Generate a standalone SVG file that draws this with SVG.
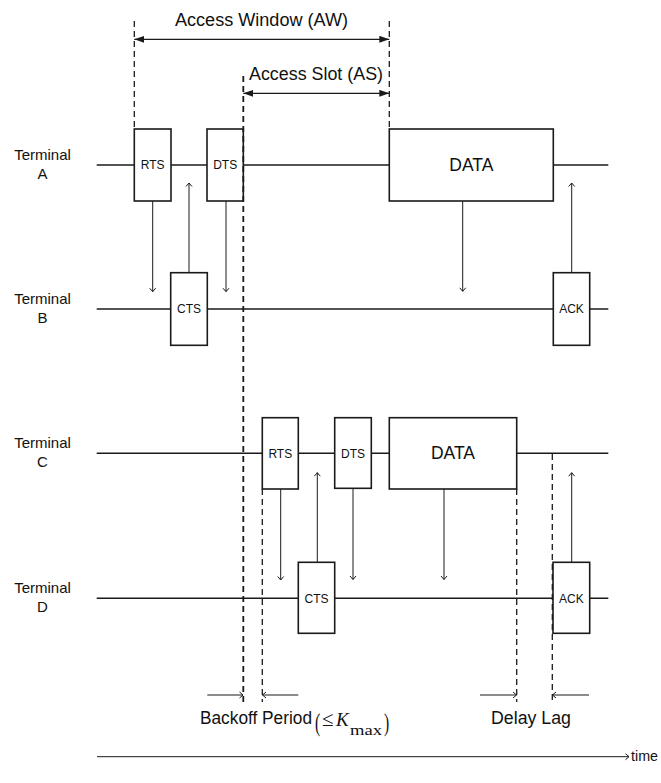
<svg xmlns="http://www.w3.org/2000/svg" width="661" height="783" viewBox="0 0 661 783">
<style>
.bg{fill:#fff}
.tl{stroke:#1a1a1a;stroke-width:1.5;fill:none}
.box{fill:#fff;stroke:#1a1a1a;stroke-width:1.6}
.msg{stroke:#1a1a1a;stroke-width:1;fill:none;marker-end:url(#v)}
.dash{stroke:#1a1a1a;stroke-width:1.3;stroke-dasharray:6 4;fill:none}
.dashb{stroke:#1a1a1a;stroke-width:1.8;stroke-dasharray:6 4;fill:none}
.dim{stroke:#1a1a1a;stroke-width:1.2;fill:none;marker-start:url(#tri);marker-end:url(#tri)}
.sm{stroke:#1a1a1a;stroke-width:1;fill:none;marker-end:url(#v)}
.lbl{font-family:"Liberation Sans",Arial,sans-serif;font-size:15px;fill:#111;text-anchor:middle}
.bt{font-family:"Liberation Sans",Arial,sans-serif;font-size:12px;fill:#111;text-anchor:middle}
.dt{font-family:"Liberation Sans",Arial,sans-serif;font-size:17.5px;fill:#111;text-anchor:middle}
.ttl{font-family:"Liberation Sans",Arial,sans-serif;font-size:17.5px;fill:#111}
.tm{font-family:"Liberation Sans",Arial,sans-serif;font-size:15px;fill:#111}
.ser{font-family:"Liberation Serif","Times New Roman",serif;fill:#111}
</style>
<defs>
<marker id="tri" markerUnits="userSpaceOnUse" markerWidth="11" markerHeight="8" refX="10" refY="3.5" orient="auto-start-reverse">
<path d="M0,0 L10,3.5 L0,7 z" fill="#1a1a1a"/>
</marker>
<marker id="v" markerUnits="userSpaceOnUse" markerWidth="8" markerHeight="10" refX="4" refY="4" orient="auto">
<path d="M0.5,1 L4,4 L0.5,7" fill="none" stroke="#1a1a1a" stroke-width="1"/>
</marker>
</defs>
<rect class="bg" x="0" y="0" width="661" height="783"/>

<g id="annotations">
<text class="ttl" x="175" y="26" textLength="173" lengthAdjust="spacingAndGlyphs">Access Window (AW)</text>
<text class="ttl" x="249" y="80" textLength="134" lengthAdjust="spacingAndGlyphs">Access Slot (AS)</text>
<line class="dim" x1="134.3" y1="39.3" x2="389.3" y2="39.3"/>
<line class="dim" x1="243.3" y1="93.3" x2="389.3" y2="93.3"/>
<line class="dash" x1="134.3" y1="21" x2="134.3" y2="129"/>
<line class="dash" x1="389.3" y1="21" x2="389.3" y2="129"/>
</g>

<g id="timelines">
<line class="tl" x1="96.7" y1="165" x2="608.3" y2="165"/>
<line class="tl" x1="96.7" y1="309" x2="608.3" y2="309"/>
<line class="tl" x1="96.7" y1="453.3" x2="608.3" y2="453.3"/>
<line class="tl" x1="96.7" y1="598.3" x2="608.3" y2="598.3"/>
</g>

<g id="terminal-labels">
<text class="lbl" x="42.5" y="160">Terminal</text><text class="lbl" x="42.5" y="179">A</text>
<text class="lbl" x="42.5" y="304">Terminal</text><text class="lbl" x="42.5" y="323">B</text>
<text class="lbl" x="42.5" y="448.3">Terminal</text><text class="lbl" x="42.5" y="467.3">C</text>
<text class="lbl" x="42.5" y="593.3">Terminal</text><text class="lbl" x="42.5" y="612.3">D</text>
</g>

<g id="A-RTS"><rect class="box" x="134.3" y="129" width="36.7" height="72"/><text class="bt" x="152.7" y="169.3">RTS</text></g>
<g id="A-DTS"><rect class="box" x="207" y="129" width="36.3" height="72"/><text class="bt" x="225.2" y="169.3">DTS</text></g>
<g id="A-DATA"><rect class="box" x="389.3" y="129" width="164" height="72"/><text class="dt" x="471.3" y="171">DATA</text></g>
<g id="B-CTS"><rect class="box" x="170.7" y="272.7" width="36.6" height="72.6"/><text class="bt" x="189" y="313.3">CTS</text></g>
<g id="B-ACK"><rect class="box" x="553.3" y="272.7" width="36.4" height="72.6"/><text class="bt" x="571.5" y="313.3">ACK</text></g>
<g id="C-RTS"><rect class="box" x="262.3" y="417.7" width="36" height="71.3"/><text class="bt" x="280.3" y="457.6">RTS</text></g>
<g id="C-DTS"><rect class="box" x="334.7" y="417.7" width="36.6" height="70.6"/><text class="bt" x="353" y="457.6">DTS</text></g>
<g id="C-DATA"><rect class="box" x="389.3" y="417.7" width="127.4" height="71.3"/><text class="dt" x="453" y="459">DATA</text></g>
<g id="D-CTS"><rect class="box" x="298.3" y="562.3" width="36.4" height="71"/><text class="bt" x="316.5" y="602.6">CTS</text></g>
<g id="D-ACK"><rect class="box" x="553" y="562.3" width="36.7" height="71"/><text class="bt" x="571.4" y="602.6">ACK</text></g>

<g id="connectors">
<line class="msg" x1="152.7" y1="201" x2="152.7" y2="291.7"/>
<line class="msg" x1="189" y1="272.7" x2="189" y2="183"/>
<line class="msg" x1="226" y1="201" x2="226" y2="291.7"/>
<line class="msg" x1="462.7" y1="201" x2="462.7" y2="291.3"/>
<line class="msg" x1="571.7" y1="272.7" x2="571.7" y2="183"/>
<line class="msg" x1="280.7" y1="489" x2="280.7" y2="580"/>
<line class="msg" x1="317.3" y1="562.3" x2="317.3" y2="472.7"/>
<line class="msg" x1="353" y1="488.3" x2="353" y2="579.5"/>
<line class="msg" x1="444" y1="489" x2="444" y2="579.5"/>
<line class="msg" x1="571.7" y1="562.3" x2="571.7" y2="472.7"/>
</g>

<g id="period-markers">
<line class="dashb" x1="243.3" y1="76" x2="243.3" y2="702"/>
<line class="dash" x1="262.3" y1="489" x2="262.3" y2="702"/>
<line class="dash" x1="516.7" y1="489" x2="516.7" y2="702"/>
<line class="dash" x1="552.3" y1="454" x2="552.3" y2="702"/>
<line class="sm" x1="207.3" y1="695" x2="243" y2="695"/>
<line class="sm" x1="298.3" y1="695" x2="262.5" y2="695"/>
<line class="sm" x1="480" y1="695" x2="516.5" y2="695"/>
<line class="sm" x1="589" y1="695" x2="552.5" y2="695"/>
<text class="ttl" x="200" y="724" textLength="112" lengthAdjust="spacingAndGlyphs">Backoff Period</text>
<text class="ser" x="315" y="731" font-size="26" transform="translate(315 0) scale(0.6 1) translate(-315 0)">(</text>
<text class="ser" x="322" y="726" font-size="21">≤</text>
<text class="ser" x="336" y="726" font-size="19" font-style="italic">K</text>
<text class="ser" x="350" y="735" font-size="15" textLength="32" lengthAdjust="spacingAndGlyphs">max</text>
<text class="ser" x="384" y="731" font-size="26" transform="translate(384 0) scale(0.6 1) translate(-384 0)">)</text>
<text class="ttl" x="491" y="724" textLength="80" lengthAdjust="spacingAndGlyphs">Delay Lag</text>
</g>

<g id="time-axis">
<line class="sm" x1="97" y1="756.7" x2="629" y2="756.7"/>
<text class="tm" x="631" y="761" textLength="27" lengthAdjust="spacingAndGlyphs">time</text>
</g>
</svg>
